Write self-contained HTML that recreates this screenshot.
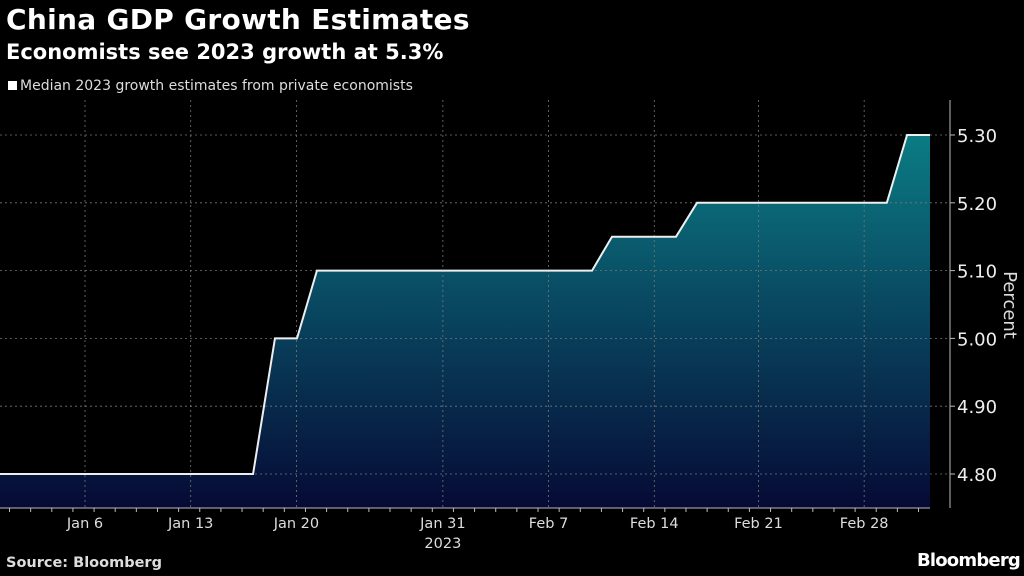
<!DOCTYPE html>
<html><head><meta charset="utf-8"><style>
body{margin:0;background:#000;width:1024px;height:576px;overflow:hidden;font-family:"DejaVu Sans","Liberation Sans",sans-serif;color:#fff}
.t{position:absolute;left:6px;top:3px;font-size:28px;font-weight:bold;letter-spacing:0.3px}
.s{position:absolute;left:6px;top:40px;font-size:21px;font-weight:bold}
.l{position:absolute;left:8px;top:78px;font-size:14px;color:#ddd}
.l i{display:inline-block;width:9px;height:9px;background:#fff;margin-right:3px}
.src{position:absolute;left:6px;top:555px;font-size:14.5px;font-weight:bold;color:#ddd}
.bb{position:absolute;right:4px;top:550px;font-size:18px;font-weight:bold;letter-spacing:-0.8px}
</style></head><body>
<div class="t">China GDP Growth Estimates</div>
<div class="s">Economists see 2023 growth at 5.3%</div>
<div class="l"><i></i>Median 2023 growth estimates from private economists</div>
<svg id="c" width="1024" height="576" style="position:absolute;left:0;top:0">
<defs><linearGradient id="g" x1="0" y1="0" x2="0" y2="1">
<stop offset="0" stop-color="#0b7c84"/><stop offset="1" stop-color="#060a35"/></linearGradient></defs>
</svg>
<div class="src">Source: Bloomberg</div>
<div class="bb">Bloomberg</div>
<script>
const xs=[0.37,17.13,18.58,20.04,21.36,39.58,40.9,45.14,46.53,59.1,60.44,61.96];
const ys=[4.8,4.8,5.0,5.0,5.1,5.1,5.15,5.15,5.2,5.2,5.3,5.3];
const xTickVals=[6,13,20,29.7,36.7,43.7,50.6,57.6];
const xTickLabels=["Jan 6","Jan 13","Jan 20","Jan 31","Feb 7","Feb 14","Feb 21","Feb 28"];
const yTickVals=[4.8,4.9,5.0,5.1,5.2,5.3];
const yTickLabels=["4.80","4.90","5.00","5.10","5.20","5.30"];
const X=t=>85+(t-6)*15.1;
const Y=v=>474-(v-4.8)*678;
const svg=document.getElementById('c');const NS='http://www.w3.org/2000/svg';
function mk(tag,a,name){const e=document.createElementNS(NS,tag);for(const k in a)e.setAttribute(k,a[k]);


svg.appendChild(e);return e;}
const bot=508;
let d='M'+X(xs[0])+','+bot;xs.forEach((x,i)=>d+=' L'+X(x)+','+Y(ys[i]));d+=' L'+X(xs[xs.length-1])+','+bot+' Z';
mk('path',{d:d,fill:'url(#g)'},'area-fill');
xTickVals.forEach((v,i)=>{mk('line',{x1:X(v),x2:X(v),y1:100,y2:bot,stroke:'#777','stroke-width':0.8,'stroke-dasharray':'2,3'},'x-gridline');
const t=mk('text',{x:X(v),y:528,fill:'#ddd','font-size':14.5,'text-anchor':'middle'},'x-tick-label');t.textContent=xTickLabels[i];});
yTickVals.forEach((v,i)=>{mk('line',{x1:0,x2:950,y1:Y(v),y2:Y(v),stroke:'#777','stroke-width':0.8,'stroke-dasharray':'2,3'},'y-gridline');
mk('line',{x1:950,x2:955,y1:Y(v),y2:Y(v),stroke:'#bbb','stroke-width':1},'y-tick');
const t=mk('text',{x:957,y:Y(v)+7,fill:'#eee','font-size':18},'y-tick-label');t.textContent=yTickLabels[i];});
let p='M'+X(xs[0])+','+Y(ys[0]);xs.forEach((x,i)=>p+=' L'+X(x)+','+Y(ys[i]));
mk('path',{d:p,fill:'none',stroke:'#eee','stroke-width':2},'series-line');
mk('line',{x1:950,x2:950,y1:100,y2:508,stroke:'#bbb','stroke-width':1},'y-axis-line');
mk('line',{x1:0,x2:930,y1:bot,y2:bot,stroke:'#bbb','stroke-width':1},'x-axis-line');
for(let t=1;t<=62;t+=1.4){if(X(t)>930)break;mk('line',{x1:X(t),x2:X(t),y1:bot,y2:bot+4,stroke:'#bbb'},'x-minor-tick');}
const yr=mk('text',{x:X(29.7),y:548,fill:'#ddd','font-size':14.5,'text-anchor':'middle'},'x-axis-year');yr.textContent='2023';
const yt=mk('text',{x:1004,y:305,fill:'#ddd','font-size':18,'text-anchor':'middle',transform:'rotate(90 1004 305)'},'y-axis-title');yt.textContent='Percent';
</script>
</body></html>
